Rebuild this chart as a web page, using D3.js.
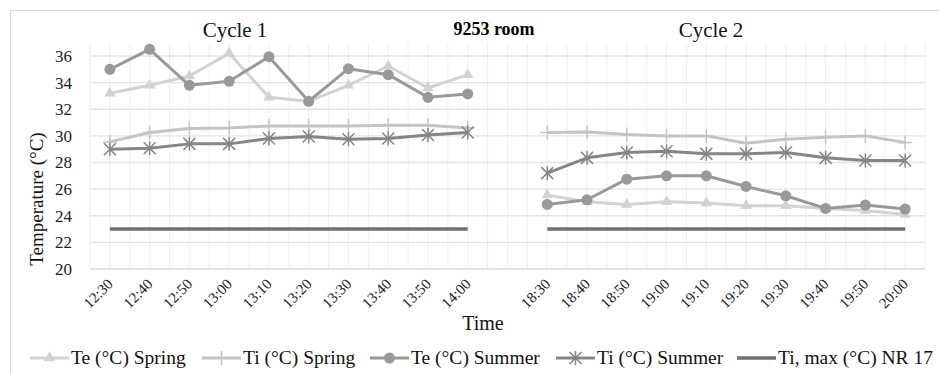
<!DOCTYPE html>
<html><head><meta charset="utf-8">
<script src="https://cdn.jsdelivr.net/npm/d3@7"></script>
<style>body{margin:0;background:#fff}svg{display:block}</style>
</head><body><svg id="c" width="939" height="373"></svg>
<script>
const categories = ["12:30","12:40","12:50","13:00","13:10","13:20","13:30","13:40","13:50","14:00","",
  "18:30","18:40","18:50","19:00","19:10","19:20","19:30","19:40","19:50","20:00"];
const teSpring = [33.2,33.8,34.5,36.2,32.9,32.6,33.8,35.25,33.6,34.6,null,
  25.55,25.05,24.85,25.05,24.95,24.75,24.75,24.55,24.4,24.1];
const tiSpring = [29.55,30.25,30.55,30.6,30.75,30.75,30.75,30.8,30.8,30.6,null,
  30.25,30.3,30.1,30.0,30.0,29.45,29.75,29.9,30.0,29.5];
const teSummer = [35.0,36.5,33.8,34.1,35.95,32.6,35.05,34.6,32.9,33.15,null,
  24.85,25.2,26.75,27.0,27.0,26.2,25.5,24.55,24.8,24.5];
const tiSummer = [29.0,29.07,29.4,29.4,29.8,29.95,29.75,29.8,30.07,30.25,null,
  27.2,28.35,28.75,28.85,28.65,28.65,28.75,28.35,28.15,28.15];
const tiMax = [23,23,23,23,23,23,23,23,23,23,null,23,23,23,23,23,23,23,23,23,23];
const yTicks = [20,22,24,26,28,30,32,34,36];
const seriesNames = ["Te (°C) Spring","Ti (°C) Spring","Te (°C) Summer","Ti (°C) Summer","Ti, max (°C) NR 17"];

const FONT = "'Liberation Serif', 'DejaVu Serif', serif";
const svg = d3.select("#c");
const L=90, R=925, T=42.7, B=269;
const x = d3.scaleBand().domain(d3.range(categories.length)).range([L,R]).padding(0);
const bw = x.bandwidth();
const cx = i => x(i)+bw/2;
const y = d3.scaleLinear().domain([20,37]).range([B,T]);

svg.append("rect").attr("x",10.5).attr("y",10.5).attr("width",940).attr("height",380)
  .attr("fill","none").attr("stroke","#d9d9d9").attr("stroke-width",1);

const vlines = [];
for(let i=0;i<=categories.length;i++){ vlines.push(L+i*bw); if(i<categories.length) vlines.push(L+i*bw+bw/2); }
svg.append("g").selectAll("line").data(vlines).join("line")
  .attr("x1",d=>d).attr("x2",d=>d).attr("y1",T).attr("y2",B)
  .attr("stroke","#efefef").attr("stroke-width",1);
svg.append("g").selectAll("line").data(yTicks).join("line")
  .attr("x1",L).attr("x2",R).attr("y1",d=>y(d)).attr("y2",d=>y(d))
  .attr("stroke",d=>d===20?"#d9d9d9":"#e3e3e3").attr("stroke-width",d=>d===20?1.5:1.3);

const ya = svg.append("g").attr("transform",`translate(${L},0)`)
  .call(d3.axisLeft(y).tickValues(yTicks).tickSize(0).tickPadding(18));
ya.attr("font-family",null).attr("font-size",null);
ya.select(".domain").remove();
ya.selectAll("text").style("font-family",FONT).style("font-size","17px").attr("fill","#222");

const xa = svg.append("g").attr("transform",`translate(0,${B})`)
  .call(d3.axisBottom(x).tickFormat(i=>categories[i]).tickSize(0));
xa.attr("font-family",null).attr("font-size",null);
xa.select(".domain").remove();
xa.selectAll(".tick text").style("font-family",FONT).style("font-size","15px").attr("fill","#222")
  .attr("text-anchor","end").attr("dy",0).attr("y",0)
  .attr("transform","translate(4,16) rotate(-45)");

function txt(xx,yy,s,size,opts={}){
  const t = svg.append("text").attr("x",xx).attr("y",yy).attr("text-anchor","middle")
    .style("font-family",FONT).style("font-size",size+"px").attr("fill",opts.fill||"#111").text(s);
  if(opts.bold) t.style("font-weight","bold");
  return t;
}
txt(235,37,"Cycle 1",21);
txt(494,35,"9253 room",18,{bold:true,fill:"#000"});
txt(711,37,"Cycle 2",21);
txt(483,330,"Time",20);
txt(0,0,"Temperature (°C)",19).attr("x",null).attr("y",null).attr("transform","translate(43,199) rotate(-90)");

const colors = ["#d2d2d2","#c4c4c4","#999999","#858585","#717171"];
const widths = [3,3,3,3,3.5];
const markers = ["tri","plus","circle","star","none"];
const all = [teSpring,tiSpring,teSummer,tiSummer,tiMax];

function drawMarker(g,type,px,py,col){
  if(type==="tri"){
    g.append("path").attr("d",d3.symbol(d3.symbolTriangle,55)()).attr("transform",`translate(${px},${py})`).attr("fill",col);
  } else if(type==="circle"){
    g.append("circle").attr("cx",px).attr("cy",py).attr("r",5.5).attr("fill",col);
  } else if(type==="plus"){
    g.append("line").attr("x1",px).attr("x2",px).attr("y1",py-7).attr("y2",py+7).attr("stroke",col).attr("stroke-width",1.5);
    g.append("line").attr("x1",px-7).attr("x2",px+7).attr("y1",py).attr("y2",py).attr("stroke",col).attr("stroke-width",1.5);
  } else if(type==="star"){
    const s=6;
    g.append("path").attr("d",`M${px-s},${py-s}L${px+s},${py+s}M${px-s},${py+s}L${px+s},${py-s}M${px},${py-s-1}L${px},${py+s+1}`)
      .attr("stroke",col).attr("stroke-width",1.5).attr("fill","none");
  }
}

all.forEach((vals,k)=>{
  const g = svg.append("g");
  const line = d3.line().defined(d=>d!=null).x((d,i)=>cx(i)).y(d=>y(d));
  g.append("path").attr("d",line(vals)).attr("fill","none").attr("stroke",colors[k]).attr("stroke-width",widths[k]).attr("stroke-linejoin","round");
  vals.forEach((v,i)=>{ if(v!=null) drawMarker(g,markers[k],cx(i),y(v),colors[k]); });
});

const legX = [30,202,370,556,737];
seriesNames.forEach((n,k)=>{
  const g = svg.append("g");
  const x0 = legX[k], ly = 358;
  g.append("line").attr("x1",x0).attr("x2",x0+39).attr("y1",ly).attr("y2",ly).attr("stroke",colors[k]).attr("stroke-width",widths[k]);
  drawMarker(g,markers[k],x0+19.5,ly,colors[k]);
  g.append("text").attr("x",x0+41).attr("y",ly+6).style("font-family",FONT).style("font-size","19.5px").attr("fill","#111").text(n);
});
</script></body></html>
